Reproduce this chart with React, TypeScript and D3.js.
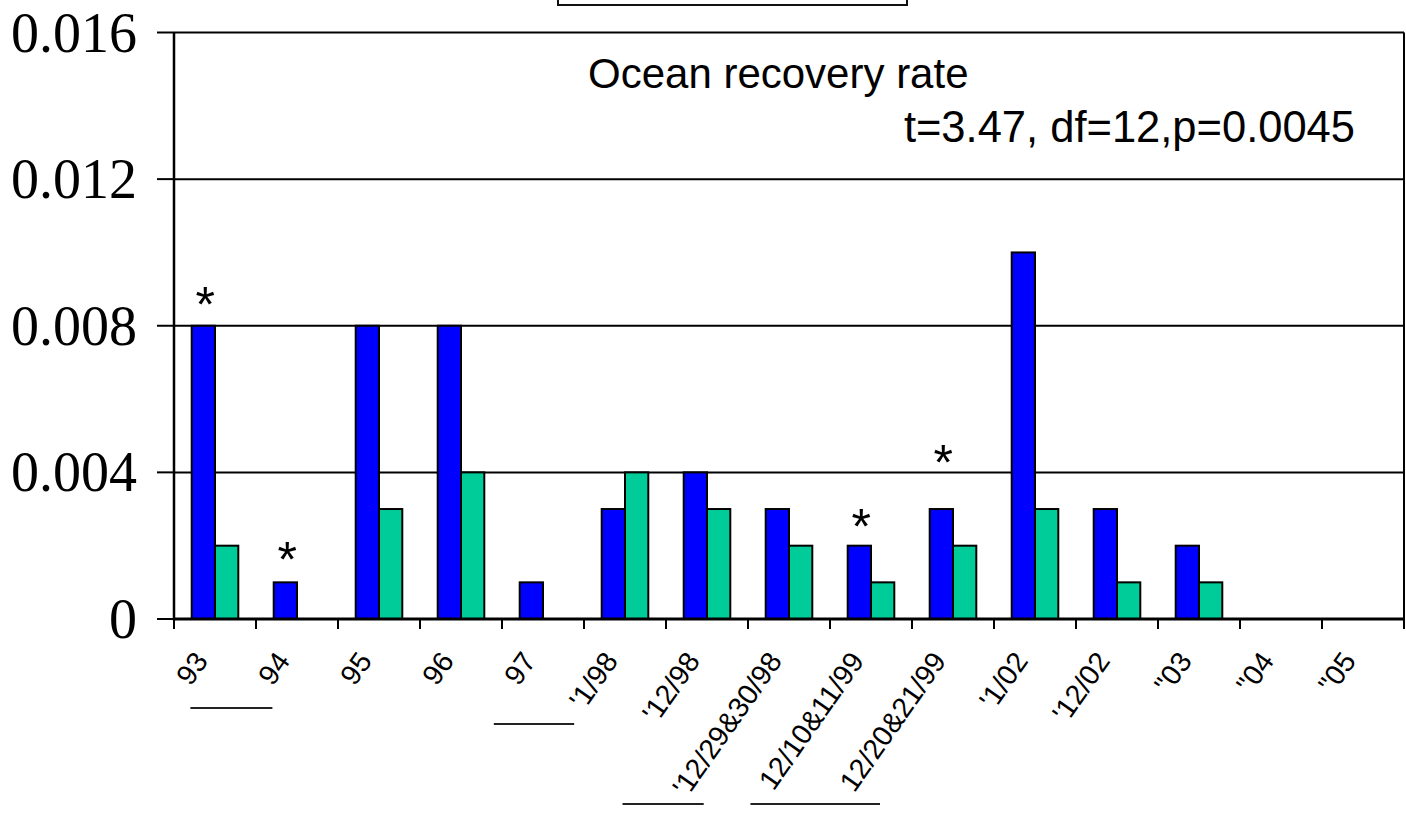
import React from "react";
import * as d3 from "d3";

const categories = [
  "93", "94", "95", "96", "97", "'1/98", "'12/98", "'12/29&30/98",
  "12/10&11/99", "12/20&21/99", "'1/02", "'12/02", "\"03", "\"04", "\"05",
];
const seriesBlue = [0.008, 0.001, 0.008, 0.008, 0.001, 0.003, 0.004, 0.003, 0.002, 0.003, 0.010, 0.003, 0.002, 0, 0];
const seriesGreen = [0.002, 0, 0.003, 0.004, 0, 0.004, 0.003, 0.002, 0.001, 0.002, 0.003, 0.001, 0.001, 0, 0];
const yTicks = [0, 0.004, 0.008, 0.012, 0.016];
const yTickLabels = ["0", "0.004", "0.008", "0.012", "0.016"];
const starCategories = ["93", "94", "12/10&11/99", "12/20&21/99"];
const starValues = [0.0089, 0.00194, 0.00284, 0.00459];
const titleText = "Ocean recovery rate";
const statText = "t=3.47, df=12,p=0.0045";
// underline annotations: [from, to] in category-position units, and pixel y
const underlineFrom = [0.2, 3.9, 5.47, 7.03];
const underlineTo = [1.2, 4.88, 6.46, 8.61];
const underlineY = [708, 724, 804, 804];

const W = 1406;
const H = 815;
const left = 174;
const right = 1404;
const top = 32.5;
const bottom = 619;

export default function App() {
  const x = d3.scaleBand<string>().domain(categories).range([left, right]).padding(0);
  const inner = d3
    .scaleBand<string>()
    .domain(["blue", "green"])
    .range([0, x.bandwidth()])
    .paddingInner(0)
    .paddingOuter(0.76);
  const y = d3.scaleLinear().domain([0, 0.016]).range([bottom, top]);
  const xPos = d3.scaleLinear().domain([0, categories.length]).range([left, right]);

  const series = [
    { key: "blue", values: seriesBlue, color: "#0000FF" },
    { key: "green", values: seriesGreen, color: "#00CC99" },
  ];

  const tickXs = d3.range(categories.length + 1).map((i) => xPos(i));
  const labelAngle = -55;

  return (
    <svg
      width={W}
      height={H}
      viewBox={`0 0 ${W} ${H}`}
      style={{ position: "absolute", left: 0, top: 0, display: "block", background: "#fff" }}
    >
      <rect x={0} y={0} width={W} height={H} fill="#fff" />
      {/* legend box cut off at top */}
      <rect x={558} y={-30} width={349} height={35} fill="#fff" stroke="#111" strokeWidth={2} />

      {/* gridlines */}
      {yTicks.slice(1).map((t) => (
        <line key={"g" + t} x1={left} x2={right} y1={y(t)} y2={y(t)} stroke="#000" strokeWidth={2} />
      ))}
      {/* right border */}
      <line x1={right} x2={right} y1={y(0.016)} y2={bottom} stroke="#000" strokeWidth={2} />

      {/* bars */}
      {series.map((s) =>
        s.values.map((v, i) =>
          v > 0 ? (
            <rect
              key={s.key + i}
              x={(x(categories[i]) as number) + (inner(s.key) as number)}
              y={y(v)}
              width={inner.bandwidth()}
              height={bottom - y(v)}
              fill={s.color}
              stroke="#000"
              strokeWidth={2}
            />
          ) : null
        )
      )}

      {/* axes */}
      <line x1={left} x2={left} y1={y(0.016)} y2={bottom + 1.5} stroke="#000" strokeWidth={2.5} />
      <line x1={left - 1} x2={right + 1} y1={bottom} y2={bottom} stroke="#000" strokeWidth={3} />
      {yTicks.map((t) => (
        <line key={"yt" + t} x1={157} x2={left} y1={y(t)} y2={y(t)} stroke="#000" strokeWidth={2} />
      ))}
      {tickXs.map((tx, i) => (
        <line key={"xt" + i} x1={tx} x2={tx} y1={bottom} y2={bottom + 10} stroke="#000" strokeWidth={2} />
      ))}

      {/* y labels */}
      {yTicks.map((t, i) => (
        <text
          key={"yl" + t}
          x={137}
          y={y(t)}
          dy="0.34em"
          textAnchor="end"
          fontFamily="'Liberation Serif', 'Times New Roman', serif"
          fontSize={56}
          fill="#000"
        >
          {yTickLabels[i]}
        </text>
      ))}

      {/* x labels */}
      {categories.map((c) => {
        const cx = (x(c) as number) + x.bandwidth() / 2 - 6;
        const cy = 661;
        return (
          <text
            key={"xl" + c}
            x={cx}
            y={cy}
            textAnchor="end"
            transform={`rotate(${labelAngle} ${cx} ${cy})`}
            fontFamily="'Liberation Sans', Arial, sans-serif"
            fontSize={28.5}
            fill="#000"
          >
            {c}
          </text>
        );
      })}

      {/* asterisks */}
      {starCategories.map((c, i) => {
        const sx = (x(c) as number) + (inner("blue") as number) + inner.bandwidth() / 2 + 2;
        const sy = y(starValues[i]);
        return (
          <text
            key={"st" + i}
            x={sx}
            y={sy + 29}
            textAnchor="middle"
            fontFamily="'Liberation Sans', Arial, sans-serif"
            fontSize={50}
            fill="#000"
          >
            *
          </text>
        );
      })}

      {/* title texts */}
      <text x={588} y={88} fontFamily="'Liberation Sans', Arial, sans-serif" fontSize={42} fill="#000">
        {titleText}
      </text>
      <text x={1355} y={142} textAnchor="end" fontFamily="'Liberation Sans', Arial, sans-serif" fontSize={43.5} fill="#000">
        {statText}
      </text>

      {/* underline annotations */}
      {underlineFrom.map((f, i) => (
        <line
          key={"ul" + i}
          x1={xPos(f)}
          x2={xPos(underlineTo[i])}
          y1={underlineY[i]}
          y2={underlineY[i]}
          stroke="#222"
          strokeWidth={2}
        />
      ))}
    </svg>
  );
}
